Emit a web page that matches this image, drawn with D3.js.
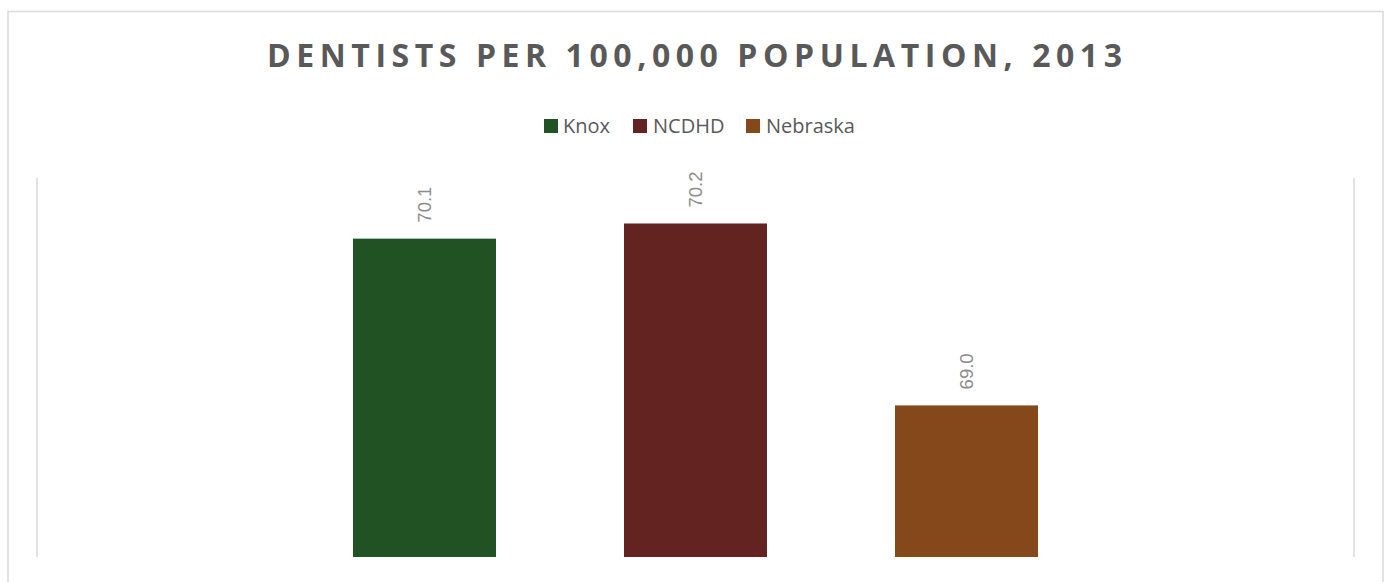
<!DOCTYPE html>
<html>
<head>
<meta charset="utf-8">
<script src="https://cdn.jsdelivr.net/npm/d3@7"></script>
<style>
  html, body { margin: 0; padding: 0; background: #fff; }
  svg { display: block; }
</style>
</head>
<body>
<svg id="chart" width="1387" height="582"></svg>
<script>
const title = "DENTISTS PER 100,000 POPULATION, 2013";
const seriesNames = ["Knox", "NCDHD", "Nebraska"];
const seriesValues = [70.1, 70.2, 69.0];
const seriesColors = ["#215223", "#632320", "#84481A"];
const yDomain = [68, 70.5];

const svg = d3.select("#chart");
const plot = { left: 37, right: 1354, top: 178, bottom: 557 };

// outer chart border
svg.append("rect")
  .attr("x", 8).attr("y", 11.5)
  .attr("width", 1375).attr("height", 600)
  .attr("fill", "#fff")
  .attr("stroke", "#d9d9d9").attr("stroke-width", 1.5);

// title
const t = svg.append("text")
  .attr("x", 694.5).attr("y", 67)
  .attr("text-anchor", "middle")
  .attr("font-family", "'Open Sans', sans-serif")
  .attr("font-weight", "bold")
  .attr("font-size", 32)
  .attr("fill", "#595959")
  .text(title);
const natural = t.node().getComputedTextLength();
const ls = (855 - natural) / (title.length - 1);
t.attr("letter-spacing", ls + "px").attr("x", 694.5 + ls / 2);

// legend
const legendItems = [
  { sx: 544, tx: 563 },
  { sx: 633, tx: 653 },
  { sx: 746, tx: 766 }
];
const lg = svg.append("g");
seriesNames.forEach((name, i) => {
  lg.append("rect")
    .attr("x", legendItems[i].sx).attr("y", 119)
    .attr("width", 14).attr("height", 14)
    .attr("fill", seriesColors[i]);
  lg.append("text")
    .attr("x", legendItems[i].tx).attr("y", 133)
    .attr("font-family", "'Open Sans', sans-serif")
    .attr("font-size", 20)
    .attr("fill", "#595959")
    .text(name);
});

// scales
const x = d3.scaleBand()
  .domain(seriesNames)
  .range([plot.left, plot.right])
  .paddingInner(128 / 271)
  .paddingOuter(1.166);
const y = d3.scaleLinear().domain(yDomain).range([plot.bottom, plot.top]);

// vertical boundary lines of plot area
svg.append("g").selectAll("line")
  .data([plot.left, plot.right])
  .join("line")
  .attr("x1", d => d).attr("x2", d => d)
  .attr("y1", plot.top).attr("y2", plot.bottom)
  .attr("stroke", "#d9d9d9").attr("stroke-width", 1.5);

const data = seriesNames.map((n, i) => ({ name: n, value: seriesValues[i], color: seriesColors[i] }));

// bars
svg.append("g").selectAll("rect")
  .data(data)
  .join("rect")
  .attr("x", d => x(d.name))
  .attr("width", x.bandwidth())
  .attr("y", d => y(d.value))
  .attr("height", d => y(yDomain[0]) - y(d.value))
  .attr("fill", d => d.color);

// data labels (rotated)
const labels = svg.append("g").selectAll("text")
  .data(data)
  .join("text")
  .attr("transform", d => `translate(${x(d.name) + x.bandwidth() / 2},${y(d.value) - 16}) rotate(-90)`)
  .attr("dy", "0.35em")
  .attr("text-anchor", "start")
  .attr("font-family", "'Liberation Sans', Arial, sans-serif")
  .attr("font-size", 20)
  .attr("fill", "#8c8c8c")
  .text(d => d3.format(".1f")(d.value));
// fit label length to ~36px
const lw = labels.nodes()[0].getComputedTextLength();
if (lw > 0) labels.attr("font-size", 20 * 36 / lw);
</script>
</body>
</html>
